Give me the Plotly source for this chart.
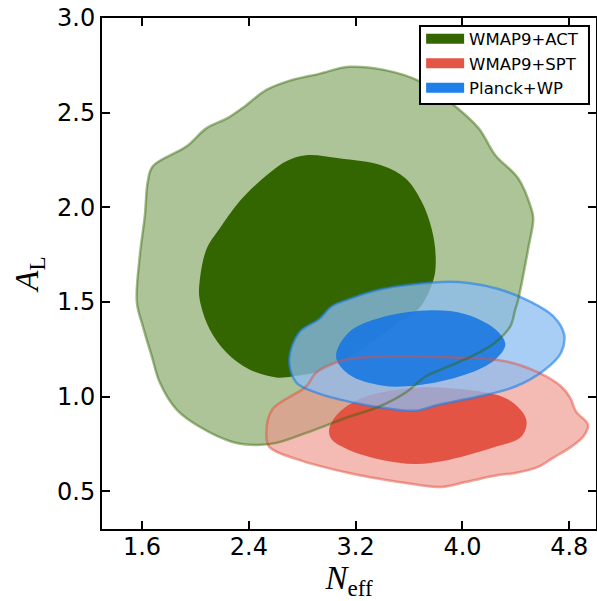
import plotly.graph_objects as go

# ---- data (N_eff, A_L) contour boundaries ----
act_outer_x = [1.643, 1.680, 1.934, 2.083, 2.240, 2.352, 2.531, 2.702, 2.926, 3.150, 3.411, 3.672,
               3.896, 4.120, 4.246, 4.418, 4.515, 4.530, 4.492, 4.418, 4.396, 4.358, 4.246, 4.067,
               3.896, 3.724, 3.575, 3.374, 3.150, 2.829, 2.605, 2.456, 2.277, 2.031, 1.859, 1.733,
               1.673, 1.606, 1.561, 1.583, 1.621]
act_outer_y = [2.136, 2.216, 2.322, 2.418, 2.471, 2.524, 2.620, 2.668, 2.705, 2.742, 2.726, 2.668,
               2.561, 2.418, 2.275, 2.152, 1.993, 1.940, 1.780, 1.515, 1.462, 1.371, 1.286, 1.212,
               1.159, 1.106, 1.021, 0.946, 0.893, 0.808, 0.755, 0.744, 0.760, 0.840, 0.931, 1.074,
               1.212, 1.371, 1.499, 1.743, 1.956]

act_inner_x = [2.829, 3.075, 3.396, 3.575, 3.694, 3.769, 3.799, 3.784, 3.672, 3.523, 3.299, 3.075,
               2.926, 2.725, 2.605, 2.404, 2.232, 2.106, 2.031, 2.031, 2.083, 2.180, 2.329, 2.479,
               2.680]
act_inner_y = [2.275, 2.259, 2.221, 2.152, 2.030, 1.887, 1.743, 1.621, 1.462, 1.393, 1.276, 1.180,
               1.132, 1.106, 1.101, 1.143, 1.233, 1.356, 1.515, 1.605, 1.780, 1.887, 2.030, 2.136,
               2.243]

spt_outer_x = [2.531, 2.575, 2.829, 2.904, 3.075, 3.277, 3.523, 3.896, 4.321, 4.567, 4.739, 4.806,
               4.851, 4.940, 4.903, 4.813, 4.679, 4.567, 4.396, 4.269, 4.023, 3.844, 3.672, 3.523,
               3.150, 2.777, 2.553]
spt_outer_y = [0.808, 0.931, 1.053, 1.127, 1.186, 1.207, 1.212, 1.207, 1.186, 1.127, 1.053, 0.994,
               0.920, 0.851, 0.787, 0.734, 0.676, 0.628, 0.596, 0.585, 0.548, 0.522, 0.533, 0.548,
               0.596, 0.665, 0.734]

spt_inner_x = [3.001, 3.075, 3.277, 3.650, 4.023, 4.343, 4.478, 4.440, 4.246, 3.896, 3.650, 3.396,
               3.150, 3.023]
spt_inner_y = [0.824, 0.915, 1.000, 1.047, 1.037, 0.984, 0.877, 0.787, 0.734, 0.665, 0.644, 0.665,
               0.718, 0.771]

planck_outer_x = [2.702, 2.777, 2.926, 3.023, 3.150, 3.396, 3.844, 4.045, 4.269, 4.515, 4.679, 4.761,
                  4.739, 4.619, 4.396, 4.120, 3.821, 3.650, 3.396, 3.150, 2.904, 2.755]
planck_outer_y = [1.196, 1.340, 1.409, 1.478, 1.515, 1.568, 1.605, 1.600, 1.568, 1.499, 1.425, 1.329,
                  1.233, 1.143, 1.053, 1.000, 0.957, 0.925, 0.941, 0.973, 1.021, 1.074]

planck_inner_x = [3.053, 3.150, 3.396, 3.769, 4.023, 4.246, 4.321, 4.246, 4.023, 3.650, 3.396, 3.150]
planck_inner_y = [1.212, 1.340, 1.419, 1.456, 1.435, 1.356, 1.276, 1.196, 1.116, 1.058, 1.058, 1.116]

series_names = ["WMAP9+ACT", "WMAP9+SPT", "Planck+WP"]

x_ticks = [1.6, 2.4, 3.2, 4.0, 4.8]
x_tick_labels = ["1.6", "2.4", "3.2", "4.0", "4.8"]
y_ticks = [0.5, 1.0, 1.5, 2.0, 2.5, 3.0]
y_tick_labels = ["0.5", "1.0", "1.5", "2.0", "2.5", "3.0"]


def closed(a):
    return list(a) + [a[0]]


fig = go.Figure()


def fill_trace(xs, ys, color):
    fig.add_trace(go.Scatter(
        x=closed(xs), y=closed(ys), mode="lines", fill="toself",
        fillcolor=color,
        line=dict(color="rgba(0,0,0,0)", width=0, shape="spline", smoothing=1.0),
        showlegend=False, hoverinfo="skip"))


def outline_trace(xs, ys, color, width):
    fig.add_trace(go.Scatter(
        x=closed(xs), y=closed(ys), mode="lines",
        line=dict(color=color, width=width, shape="spline", smoothing=1.0),
        showlegend=False, hoverinfo="skip"))


# fills
fill_trace(act_outer_x, act_outer_y, "rgb(173,196,153)")
fill_trace(act_inner_x, act_inner_y, "rgb(51,102,0)")
fill_trace(spt_outer_x, spt_outer_y, "rgba(238,150,140,0.65)")
fill_trace(spt_inner_x, spt_inner_y, "rgba(227,78,62,0.95)")
fill_trace(planck_outer_x, planck_outer_y, "rgba(140,190,243,0.75)")
fill_trace(planck_inner_x, planck_inner_y, "rgba(25,120,225,0.9)")

# outlines
outline_trace(spt_outer_x, spt_outer_y, "rgba(227,78,62,0.5)", 2.5)
outline_trace(planck_outer_x, planck_outer_y, "rgba(30,125,230,0.6)", 2.5)
outline_trace(act_outer_x, act_outer_y, "rgba(51,102,0,0.45)", 2.5)

# legend entries
legend_fill = ["rgb(51,102,0)", "rgb(227,85,69)", "rgb(31,127,232)"]
for nm, fc in zip(series_names, legend_fill):
    fig.add_trace(go.Scatter(
        x=[None], y=[None], mode="lines",
        line=dict(color=fc, width=10), name=nm, showlegend=True))

axis_common = dict(
    showline=True, linecolor="black", linewidth=2, mirror="ticks",
    ticks="inside", ticklen=8, tickwidth=1.5, tickcolor="black",
    showgrid=False, zeroline=False, automargin=False,
    tickfont=dict(family="DejaVu Sans", size=24, color="black"),
)

fig.update_xaxes(range=[1.3, 5.0], tickvals=x_ticks, ticktext=x_tick_labels,
                 ticklabelstandoff=-5,
                 title=dict(text="<i>N</i><sub>eff</sub>",
                            font=dict(family="Liberation Serif", size=33, color="black"),
                            standoff=0),
                 **axis_common)
fig.update_yaxes(range=[0.3, 3.0001], tickvals=y_ticks, ticktext=y_tick_labels,
                 title=dict(text="<i>A</i><sub>L</sub>",
                            font=dict(family="Liberation Serif", size=33, color="black"),
                            standoff=8),
                 **axis_common)

# legend frame (white box with black border) behind the legend entries
fig.add_shape(type="rect", xref="paper", yref="paper",
              x0=0.6437, x1=0.9858, y0=0.8317, y1=0.9843,
              line=dict(color="black", width=2), fillcolor="white", layer="above")

fig.update_layout(
    width=597, height=601,
    margin=dict(l=102, r=1, t=18, b=72, autoexpand=False),
    plot_bgcolor="white", paper_bgcolor="white",
    legend=dict(x=0.646, y=0.993, xanchor="left", yanchor="top",
                borderwidth=0, bgcolor="rgba(0,0,0,0)",
                font=dict(family="DejaVu Sans", size=16.5, color="black"),
                itemwidth=38, tracegroupgap=0),
)

# remove the default page margin so the figure fills the window exactly
fig.write_html("out.html",
               config={"displayModeBar": False},
               post_script="document.body.style.margin='0px';document.body.style.overflow='hidden';")
